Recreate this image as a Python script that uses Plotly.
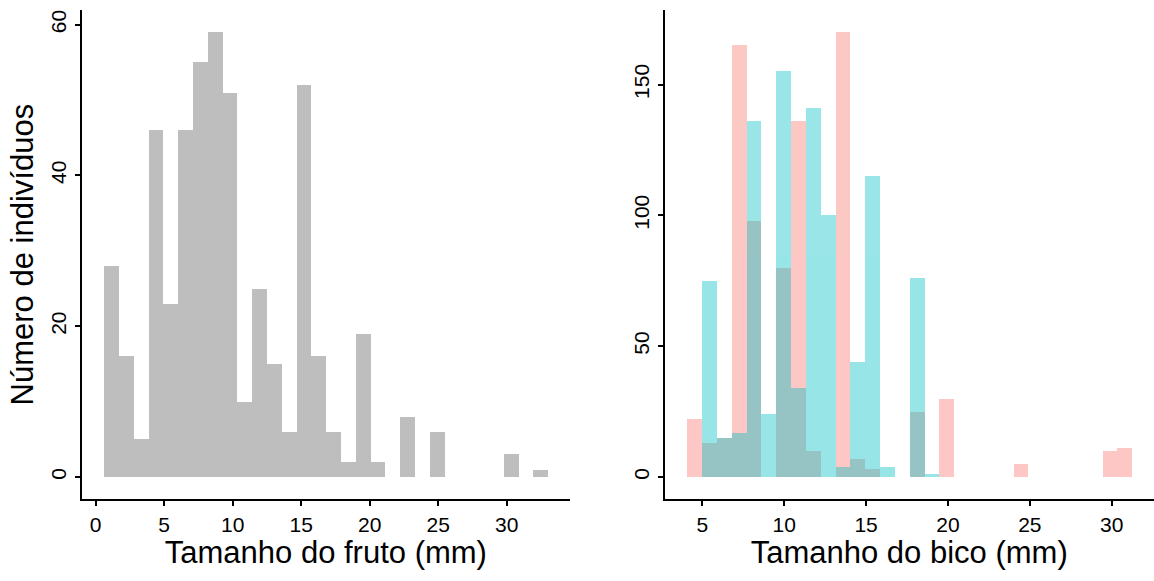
import plotly.graph_objects as go

# ---------------- data ----------------
# Left panel: fruit size histogram (30 bins)
fruto_bin_start = 0.6
fruto_bin_width = 1.08
fruto_counts = [28, 16, 5, 46, 23, 46, 55, 59, 51, 10, 25, 15, 6, 52, 16,
                6, 2, 19, 2, 0, 8, 0, 6, 0, 0, 0, 0, 3, 0, 1]

# Right panel: beak size histogram, two groups (30 bins)
bico_bin_start = 4.047
bico_bin_width = 0.906
bico_grupo1 = [22, 13, 15, 165, 98, 0, 80, 136, 10, 0, 170, 7, 3, 0, 0,
               25, 0, 30, 0, 0, 0, 0, 5, 0, 0, 0, 0, 0, 10, 11]
bico_grupo2 = [0, 75, 15, 17, 136, 24, 155, 34, 141, 100, 4, 44, 115, 4, 0,
               76, 1, 0, 0, 0, 0, 0, 0, 0, 0, 0, 0, 0, 0, 0]

left_xticks = [0, 5, 10, 15, 20, 25, 30]
left_yticks = [0, 20, 40, 60]
right_xticks = [5, 10, 15, 20, 25, 30]
right_yticks = [0, 50, 100, 150]

x_title_left = "Tamanho do fruto (mm)"
x_title_right = "Tamanho do bico (mm)"
y_title = "Número de indivíduos"

# ---------------- helpers ----------------
def centers(start, width, n):
    return [start + (i + 0.5) * width for i in range(n)]

def expand(lo, hi, f=0.05):
    pad = (hi - lo) * f
    return [lo - pad, hi + pad]

W, H = 1154, 581
FONT = "Liberation Sans, Arial, sans-serif"

fig = go.Figure()

fig.add_trace(go.Bar(
    x=centers(fruto_bin_start, fruto_bin_width, len(fruto_counts)),
    y=fruto_counts, width=fruto_bin_width,
    marker=dict(color="#BEBEBE", line=dict(width=0)),
    xaxis="x", yaxis="y", showlegend=False))

fig.add_trace(go.Bar(
    x=centers(bico_bin_start, bico_bin_width, len(bico_grupo1)),
    y=bico_grupo1, width=bico_bin_width,
    marker=dict(color="#F8766D", line=dict(width=0)), opacity=0.4,
    xaxis="x2", yaxis="y2", showlegend=False))

fig.add_trace(go.Bar(
    x=centers(bico_bin_start, bico_bin_width, len(bico_grupo2)),
    y=bico_grupo2, width=bico_bin_width,
    marker=dict(color="#00BFC4", line=dict(width=0)), opacity=0.4,
    xaxis="x2", yaxis="y2", showlegend=False))

axis_common = dict(
    showline=True, linecolor="black", linewidth=2,
    ticks="outside", ticklen=5, tickwidth=2, tickcolor="black",
    showgrid=False, zeroline=False,
    tickfont=dict(family=FONT, size=21, color="black"),
    title_font=dict(family=FONT, size=31, color="black"),
)

fx_range = expand(fruto_bin_start, fruto_bin_start + fruto_bin_width * len(fruto_counts))
fy_range = expand(0, max(fruto_counts))
bx_range = expand(bico_bin_start, bico_bin_start + bico_bin_width * len(bico_grupo1))
by_range = expand(0, max(max(bico_grupo1), max(bico_grupo2)))

y_dom = [81.7 / H, 571 / H]

fig.update_layout(
    width=W, height=H,
    margin=dict(l=0, r=0, t=0, b=0),
    paper_bgcolor="white", plot_bgcolor="white",
    barmode="overlay", bargap=0,
    xaxis=dict(axis_common, domain=[81.7 / W, 570 / W], range=fx_range,
               tickvals=left_xticks, title=dict(text=x_title_left, standoff=7),
               anchor="y"),
    yaxis=dict(axis_common, domain=y_dom, range=fy_range,
               tickvals=left_yticks, tickangle=-90,
               title=dict(text=y_title, standoff=4), anchor="x"),
    xaxis2=dict(axis_common, domain=[664.5 / W, 1.0], range=bx_range,
                tickvals=right_xticks, title=dict(text=x_title_right, standoff=7),
                anchor="y2"),
    yaxis2=dict(axis_common, domain=y_dom, range=by_range,
                tickvals=right_yticks, tickangle=-90, anchor="x2"),
)

fig.write_html("out.html")
